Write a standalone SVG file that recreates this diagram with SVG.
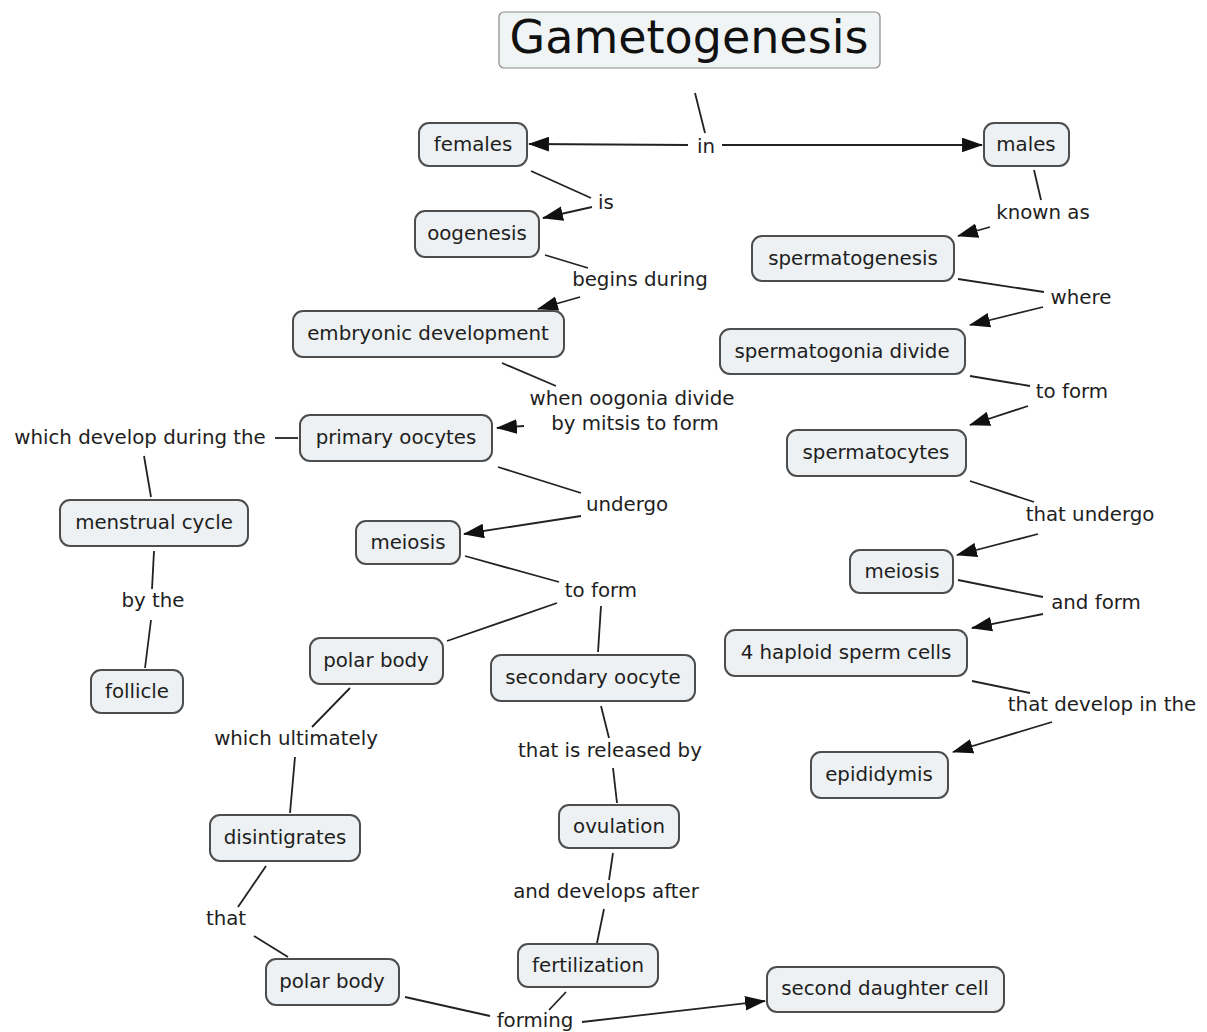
<svg xmlns="http://www.w3.org/2000/svg" width="1207" height="1032" viewBox="0 0 1207 1032">
<defs>
<style>
.n rect{fill:#edf1f3;stroke:#4d4d4d;stroke-width:2}
.t{font-family:"DejaVu Sans","Verdana",sans-serif;font-size:19.8px;fill:#1e1e1e;text-anchor:middle}
.lk{font-family:"DejaVu Sans","Verdana",sans-serif;font-size:19.8px;fill:#1e1e1e;text-anchor:middle}
.c path{fill:none;stroke:#222;stroke-width:1.8}
</style>
<marker id="ah" viewBox="0 0 20 14" refX="19" refY="7" markerWidth="21" markerHeight="15" markerUnits="userSpaceOnUse" orient="auto">
<path d="M0,0 L20,7 L0,14 z" fill="#111"/>
</marker>
</defs>
<rect width="1207" height="1032" fill="#ffffff"/>

<g id="connectors" class="c">
<path d="M695,93 L705,133"/>
<path d="M688,145 L529,144" marker-end="url(#ah)"/>
<path d="M722,145 L982,145" marker-end="url(#ah)"/>
<path d="M531,171 L591,198"/>
<path d="M592,207 L543,218" marker-end="url(#ah)"/>
<path d="M1034,170 L1041,200"/>
<path d="M990,227 L958,236" marker-end="url(#ah)"/>
<path d="M545,255 L588,268"/>
<path d="M580,297 L538,309" marker-end="url(#ah)"/>
<path d="M958,279 L1044,292"/>
<path d="M1043,307 L970,325" marker-end="url(#ah)"/>
<path d="M502,363 L556,386"/>
<path d="M524,426 L497,428" marker-end="url(#ah)"/>
<path d="M970,376 L1030,386"/>
<path d="M1028,406 L970,425" marker-end="url(#ah)"/>
<path d="M275,438 L298,438"/>
<path d="M144,456 L151,497"/>
<path d="M498,467 L581,493"/>
<path d="M581,516 L464,534" marker-end="url(#ah)"/>
<path d="M970,481 L1034,502"/>
<path d="M1038,534 L957,555" marker-end="url(#ah)"/>
<path d="M465,556 L559,582"/>
<path d="M557,603 L447,641"/>
<path d="M601,606 L598,652"/>
<path d="M154,551 L152,589"/>
<path d="M151,620 L145,668"/>
<path d="M958,580 L1043,597"/>
<path d="M1043,614 L972,628" marker-end="url(#ah)"/>
<path d="M972,681 L1030,693"/>
<path d="M1052,722 L953,752" marker-end="url(#ah)"/>
<path d="M350,688 L312,727"/>
<path d="M295,757 L290,813"/>
<path d="M601,706 L609,738"/>
<path d="M613,768 L617,803"/>
<path d="M266,866 L238,907"/>
<path d="M254,936 L288,957"/>
<path d="M613,853 L609,880"/>
<path d="M604,909 L597,943"/>
<path d="M405,997 L490,1016"/>
<path d="M566,992 L549,1010"/>
<path d="M582,1022 L765,1001" marker-end="url(#ah)"/>
</g>

<g id="labels">
<text class="lk" x="706" y="153">in</text>
<text class="lk" x="606" y="209">is</text>
<text class="lk" x="1043" y="219">known as</text>
<text class="lk" x="640" y="286">begins during</text>
<text class="lk" x="1081" y="304">where</text>
<text class="lk" x="632" y="405">when oogonia divide</text>
<text class="lk" x="635" y="430">by mitsis to form</text>
<text class="lk" x="1072" y="398">to form</text>
<text class="lk" x="140" y="444">which develop during the</text>
<text class="lk" x="627" y="511">undergo</text>
<text class="lk" x="1090" y="521">that undergo</text>
<text class="lk" x="601" y="597">to form</text>
<text class="lk" x="153" y="607">by the</text>
<text class="lk" x="1096" y="609">and form</text>
<text class="lk" x="1102" y="711">that develop in the</text>
<text class="lk" x="296" y="745">which ultimately</text>
<text class="lk" x="610" y="757">that is released by</text>
<text class="lk" x="606" y="898">and develops after</text>
<text class="lk" x="226" y="925">that</text>
<text class="lk" x="535" y="1027">forming</text>
</g>

<g id="node-gametogenesis">
<rect x="499" y="12" width="381" height="56" rx="5" fill="#f0f4f5" stroke="#8a8a8a" stroke-width="1.2"/>
<text x="689" y="53" font-family="DejaVu Sans, Verdana, sans-serif" font-size="46" fill="#111" text-anchor="middle">Gametogenesis</text>
</g>
<g id="node-females" class="n"><rect x="419" y="123" width="108" height="43" rx="10"/><text class="t" x="473" y="151">females</text></g>
<g id="node-males" class="n"><rect x="984" y="123" width="85" height="43" rx="10"/><text class="t" x="1026" y="151">males</text></g>
<g id="node-oogenesis" class="n"><rect x="415" y="211" width="124" height="46" rx="10"/><text class="t" x="477" y="240">oogenesis</text></g>
<g id="node-spermatogenesis" class="n"><rect x="752" y="236" width="202" height="45" rx="10"/><text class="t" x="853" y="265">spermatogenesis</text></g>
<g id="node-embryonic-development" class="n"><rect x="293" y="311" width="271" height="46" rx="10"/><text class="t" x="428" y="340">embryonic development</text></g>
<g id="node-spermatogonia-divide" class="n"><rect x="720" y="329" width="245" height="45" rx="10"/><text class="t" x="842" y="358">spermatogonia divide</text></g>
<g id="node-primary-oocytes" class="n"><rect x="300" y="415" width="192" height="46" rx="10"/><text class="t" x="396" y="444">primary oocytes</text></g>
<g id="node-spermatocytes" class="n"><rect x="787" y="430" width="179" height="46" rx="10"/><text class="t" x="876" y="459">spermatocytes</text></g>
<g id="node-menstrual-cycle" class="n"><rect x="60" y="500" width="188" height="46" rx="10"/><text class="t" x="154" y="529">menstrual cycle</text></g>
<g id="node-meiosis-f" class="n"><rect x="356" y="521" width="104" height="43" rx="10"/><text class="t" x="408" y="549">meiosis</text></g>
<g id="node-meiosis-m" class="n"><rect x="850" y="550" width="103" height="43" rx="10"/><text class="t" x="902" y="578">meiosis</text></g>
<g id="node-4-haploid-sperm-cells" class="n"><rect x="725" y="630" width="242" height="46" rx="10"/><text class="t" x="846" y="659">4 haploid sperm cells</text></g>
<g id="node-polar-body-1" class="n"><rect x="310" y="638" width="133" height="46" rx="10"/><text class="t" x="376" y="667">polar body</text></g>
<g id="node-secondary-oocyte" class="n"><rect x="491" y="655" width="204" height="46" rx="10"/><text class="t" x="593" y="684">secondary oocyte</text></g>
<g id="node-follicle" class="n"><rect x="91" y="670" width="92" height="43" rx="10"/><text class="t" x="137" y="698">follicle</text></g>
<g id="node-epididymis" class="n"><rect x="811" y="752" width="137" height="46" rx="10"/><text class="t" x="879" y="781">epididymis</text></g>
<g id="node-ovulation" class="n"><rect x="559" y="805" width="120" height="43" rx="10"/><text class="t" x="619" y="833">ovulation</text></g>
<g id="node-disintigrates" class="n"><rect x="210" y="815" width="150" height="46" rx="10"/><text class="t" x="285" y="844">disintigrates</text></g>
<g id="node-fertilization" class="n"><rect x="518" y="944" width="140" height="43" rx="10"/><text class="t" x="588" y="972">fertilization</text></g>
<g id="node-polar-body-2" class="n"><rect x="266" y="959" width="133" height="46" rx="10"/><text class="t" x="332" y="988">polar body</text></g>
<g id="node-second-daughter-cell" class="n"><rect x="767" y="967" width="237" height="45" rx="10"/><text class="t" x="885" y="995">second daughter cell</text></g>
</svg>
